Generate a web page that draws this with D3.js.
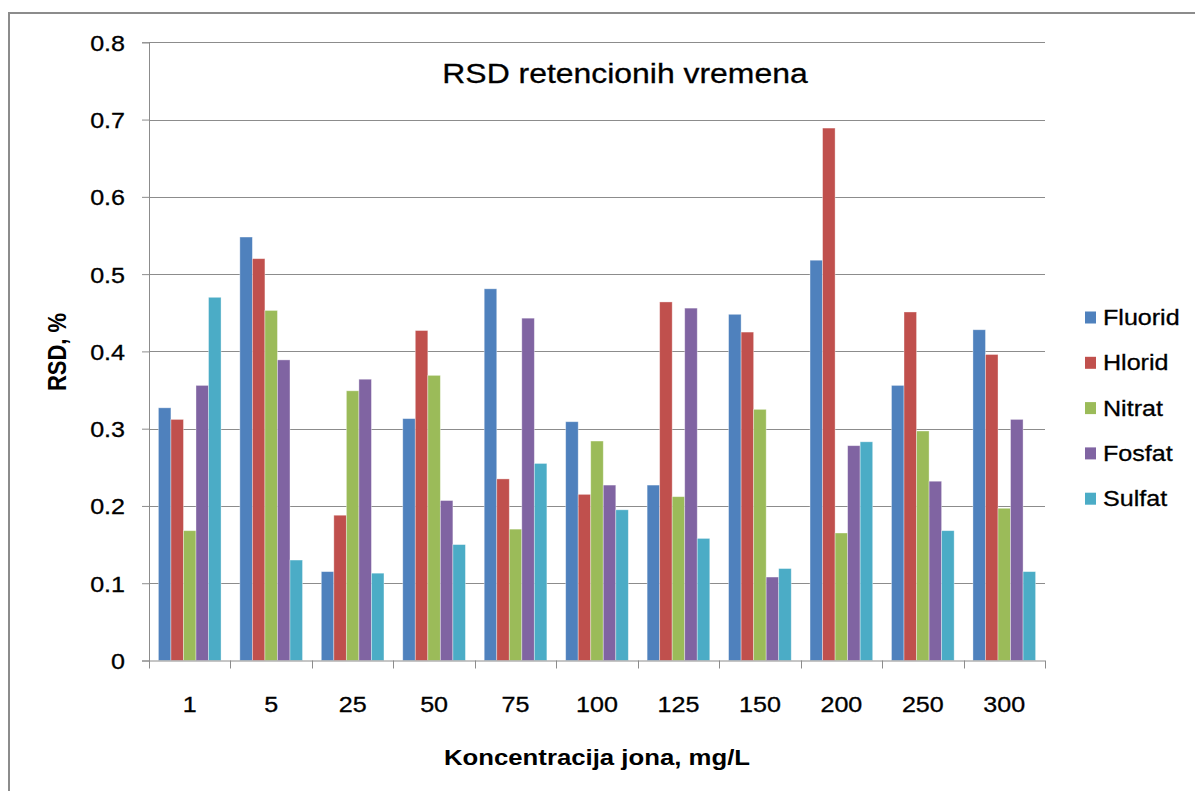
<!DOCTYPE html>
<html>
<head>
<meta charset="utf-8">
<script src="https://cdn.jsdelivr.net/npm/d3@7"></script>
<style>
  html, body { margin: 0; padding: 0; background: #fff; }
  svg text { font-family: "Liberation Sans", Arial, sans-serif; fill: #000; }
  svg text.reg { stroke: #000; stroke-width: 0.3px; }
</style>
</head>
<body>
<svg id="chart" width="1195" height="791"></svg>
<script>
// Concentrations on the category axis (mg/L)
const categories = ["1", "5", "25", "50", "75", "100", "125", "150", "200", "250", "300"];

// RSD of retention times, % — one array per ion
const fluorid = [0.327, 0.548, 0.115, 0.313, 0.481, 0.309, 0.227, 0.448, 0.518, 0.356, 0.428];
const hlorid  = [0.312, 0.520, 0.188, 0.427, 0.235, 0.215, 0.464, 0.425, 0.689, 0.451, 0.396];
const nitrat  = [0.168, 0.453, 0.349, 0.369, 0.170, 0.284, 0.212, 0.325, 0.165, 0.297, 0.197];
const fosfat  = [0.356, 0.389, 0.364, 0.207, 0.443, 0.227, 0.456, 0.108, 0.278, 0.232, 0.312];
const sulfat  = [0.470, 0.130, 0.113, 0.150, 0.255, 0.195, 0.158, 0.119, 0.283, 0.168, 0.115];

const seriesNames = ["Fluorid", "Hlorid", "Nitrat", "Fosfat", "Sulfat"];
const seriesColors = ["#4F81BD", "#C0504D", "#9BBB59", "#8064A2", "#4BACC6"];
const yTicks = [0, 0.1, 0.2, 0.3, 0.4, 0.5, 0.6, 0.7, 0.8];

const seriesValues = [fluorid, hlorid, nitrat, fosfat, sulfat];
const series = seriesNames.map((name, i) => ({ name, color: seriesColors[i], values: seriesValues[i] }));

const svg = d3.select("#chart");
const plot = { left: 149, right: 1045, top: 42.3, bottom: 660.5 };
const stretch = 1.14; // glyphs are drawn slightly wide

// Chart frame
svg.append("path")
  .attr("d", "M9,791 L9,13 L1195,13")
  .attr("fill", "none").attr("stroke", "#8c8c8c").attr("stroke-width", 2);

const x = d3.scaleBand().domain(categories).range([plot.left, plot.right]).paddingInner(0).paddingOuter(0);
const y = d3.scaleLinear().domain([0, 0.8]).range([plot.bottom, plot.top]);

// Bars: 5 per group with gap of 1.5 bar widths between groups
const nS = series.length;
const barW = x.bandwidth() / (nS + 1.5);
const x1 = d3.scaleBand().domain(seriesNames)
  .range([0.75 * barW, 0.75 * barW + nS * barW]).padding(0);

// Horizontal gridlines
svg.append("g").selectAll("line")
  .data(yTicks.filter(d => d > 0))
  .join("line")
  .attr("x1", plot.left).attr("x2", plot.right)
  .attr("y1", d => Math.round(y(d)) + 0.5).attr("y2", d => Math.round(y(d)) + 0.5)
  .attr("stroke", "#8c8c8c").attr("stroke-width", 1);

// Bars
const groups = svg.append("g").selectAll("g")
  .data(categories)
  .join("g")
  .attr("transform", d => `translate(${x(d)},0)`);

groups.selectAll("rect")
  .data((c, ci) => series.map(s => ({ name: s.name, color: s.color, value: s.values[ci] })))
  .join("rect")
  .attr("x", d => x1(d.name))
  .attr("width", x1.bandwidth())
  .attr("y", d => y(d.value))
  .attr("height", d => y(0) - y(d.value))
  .attr("fill", d => d.color)
  .attr("stroke", "rgba(255,255,255,0.45)")
  .attr("stroke-width", 0.8);

// Y axis
const yAxis = d3.axisLeft(y)
  .tickValues(yTicks)
  .tickSize(7)
  .tickPadding(0)
  .tickFormat(d => d === 0 ? "0" : d3.format(".1f")(d));

const yg = svg.append("g")
  .attr("transform", `translate(${plot.left},0)`)
  .call(yAxis);
yg.select(".domain").attr("stroke", "#8c8c8c");
yg.selectAll(".tick line").attr("stroke", "#8c8c8c");
yg.selectAll(".tick text")
  .attr("class", "reg")
  .attr("x", null).attr("dy", null)
  .attr("text-anchor", "end")
  .attr("font-size", 22)
  .attr("transform", `translate(-24,8) scale(${stretch},1)`);

// X axis: line, tick marks at group boundaries, labels centred on groups
const xAxis = d3.axisBottom(x).tickSize(0).tickPadding(0);
const xg = svg.append("g")
  .attr("transform", `translate(0,${plot.bottom})`)
  .call(xAxis);
xg.select(".domain").attr("stroke", "#8c8c8c").attr("d", `M${plot.left},0.5H${plot.right}`);
xg.selectAll(".tick text")
  .attr("class", "reg")
  .attr("y", null).attr("dy", null)
  .attr("font-size", 22)
  .attr("text-anchor", "middle")
  .attr("transform", `translate(0,51.5) scale(${stretch},1)`);

const boundaries = categories.map(c => x(c)).concat([x(categories[categories.length - 1]) + x.bandwidth()]);
xg.append("g").selectAll("line")
  .data(boundaries)
  .join("line")
  .attr("x1", d => Math.round(d) + 0.5).attr("x2", d => Math.round(d) + 0.5)
  .attr("y1", 0).attr("y2", 8)
  .attr("stroke", "#8c8c8c");

// Titles
svg.append("text")
  .attr("class", "reg")
  .attr("transform", `translate(625,83.3) scale(${stretch},1)`)
  .attr("text-anchor", "middle")
  .attr("font-size", 28)
  .text("RSD retencionih vremena");

svg.append("text")
  .attr("transform", `translate(597,765) scale(1.12,1)`)
  .attr("text-anchor", "middle")
  .attr("font-size", 23)
  .attr("font-weight", "bold")
  .text("Koncentracija jona, mg/L");

svg.append("text")
  .attr("transform", `translate(66,352) scale(${stretch},1) rotate(-90)`)
  .attr("text-anchor", "middle")
  .attr("font-size", 22)
  .attr("font-weight", "bold")
  .text("RSD, %");

// Legend
const legend = svg.append("g").selectAll("g")
  .data(series)
  .join("g")
  .attr("transform", (d, i) => `translate(1085,${325 + i * 45.3})`);
legend.append("rect")
  .attr("x", 0).attr("y", -13.5)
  .attr("width", 11).attr("height", 12)
  .attr("fill", d => d.color);
legend.append("text")
  .attr("class", "reg")
  .attr("transform", `translate(18,0) scale(${stretch},1)`)
  .attr("font-size", 22)
  .text(d => d.name);
</script>
</body>
</html>
